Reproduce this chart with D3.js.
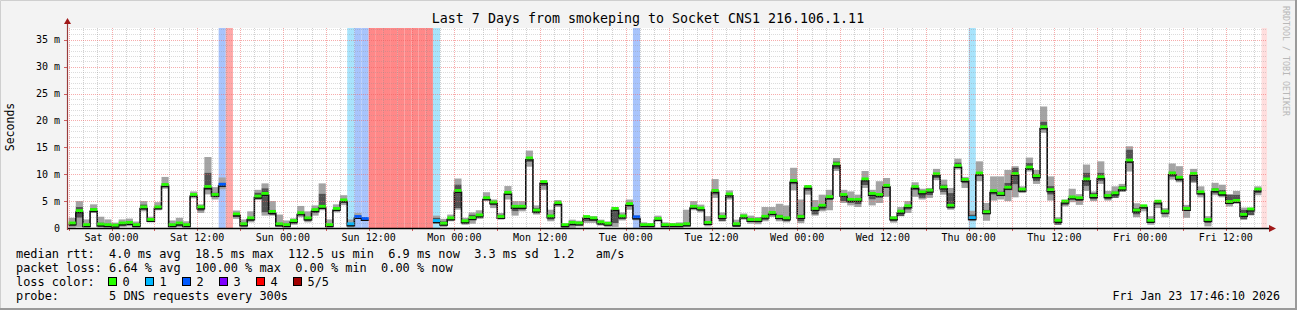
<!DOCTYPE html>
<meta charset="utf-8">
<style>
  body { margin: 0; background: #f3f3f3; }
  svg text { font-family: "DejaVu Sans Mono", monospace; white-space: pre; }
</style>
<svg width="1297" height="310"></svg>
<script src="https://cdn.jsdelivr.net/npm/d3@7"></script>
<script>
// hourly bins, first one starts Fri Jan 16 18:00, values in ms
var firstBin = new Date(2026, 0, 16, 18, 0, 0);
var graphStart = new Date(2026, 0, 16, 17, 46, 10);
var graphEnd = new Date(2026, 0, 23, 17, 46, 10);

var pMin = [0.1,0.2,0.1,2.8,0.1,0.1,0.1,0.2,0.3,0.1,3.1,1.05,3.3,7.3,0.1,0.2,0.1,5.5,2.8,6.25,5.3,7.2,null,1.7,0.1,1.05,5.2,2.3,2.3,0.2,0.1,0.6,2.0,1.05,2.3,3.3,0.1,2.9,4.25,0.1,1.7,1.3,
  null,null,null,null,null,null,null,null,null,0.75,0.2,1.25,3.4,0.6,0.8,1.7,5.0,3.7,1.55,5.3,2.3,3.1,11.4,2.5,7.1,1.25,3.9,0.05,0.05,0.3,0.95,0.95,0.45,0.2,0.2,1.4,3.4,1.4,
  0.1,0.1,1.2,0.1,0.1,0.1,0.2,3.3,2.9,0.3,5.6,1.25,5.3,0.2,1.55,0.8,0.7,1.25,2.05,1.25,1.05,7.0,0.9,6.2,2.3,3.1,3.3,10.6,4.65,4.2,3.9,7.45,4.2,4.65,5.8,1.0,2.2,2.8,5.8,5.3,5.6,8.9,6.2,3.4,10.9,7.45,
  1.25,8.7,1.35,5.1,5.3,5.0,5.7,6.5,10.5,8.2,17.7,5.1,0.6,4.0,4.8,4.3,6.9,5.0,8.2,5.1,5.6,6.7,10.5,2.0,3.1,0.6,3.7,2.0,9.0,8.5,1.9,8.4,5.7,0.3,6.1,5.7,4.0,4.5,1.55,2.35,6.1];
var pQ1 = [0.3,1.9,0.2,3.0,0.3,0.2,0.15,0.4,0.5,0.2,3.4,1.15,3.5,7.6,0.2,0.3,0.2,5.8,3.2,7.0,5.7,7.6,null,2.0,0.3,1.3,5.4,2.9,2.4,0.3,0.2,0.8,2.3,1.3,2.8,3.5,0.2,3.1,4.6,0.3,1.75,1.4,
  null,null,null,null,null,null,null,null,null,0.9,0.4,1.4,3.7,0.8,1.55,1.9,5.2,4.2,1.7,6.1,3.1,3.4,12.3,2.7,7.8,1.55,4.2,0.1,0.4,0.45,1.3,1.3,0.6,0.4,0.9,1.6,4.0,1.6,
  0.2,0.2,1.3,0.2,0.2,0.2,0.35,3.5,3.2,0.5,6.2,1.25,5.6,0.2,1.7,1.25,1.0,1.5,2.3,1.55,1.3,8.1,1.25,6.9,2.5,3.4,5.2,11.0,5.0,4.65,4.4,8.0,5.3,5.6,7.4,1.25,2.2,3.4,7.0,5.6,6.1,9.3,6.7,3.6,11.2,8.3,
  1.4,9.6,2.5,6.2,6.0,7.0,8.1,6.7,10.8,8.7,18.3,6.2,0.6,4.3,5.3,5.0,7.8,5.3,8.7,5.3,5.6,6.8,12.0,2.5,3.5,0.9,4.3,2.5,9.5,8.7,3.2,8.6,6.2,0.9,6.4,5.9,4.4,4.7,1.6,2.4,6.5];
var pMed = [0.6,2.9,0.3,3.1,0.4,0.3,0.2,0.6,0.7,0.3,3.6,1.25,3.6,7.75,0.3,0.6,0.3,5.9,3.6,7.4,5.9,7.8,null,2.3,0.45,1.55,5.6,6.1,2.75,0.45,0.3,1.05,2.5,1.55,3.1,3.7,0.3,3.3,4.9,0.45,1.8,1.45,
  null,null,null,null,null,null,null,null,null,1.05,0.55,1.55,6.65,1.0,1.6,2.1,5.3,4.5,1.8,6.3,3.7,3.7,12.7,3.0,8.3,1.9,4.4,0.3,0.7,0.6,1.8,1.55,0.8,0.55,3.3,1.9,4.2,1.75,
  0.3,0.3,1.45,0.3,0.3,0.3,0.45,3.7,3.4,0.7,6.65,1.8,6.0,0.45,1.9,1.25,1.25,1.85,2.55,1.8,1.55,8.5,1.8,7.4,3.3,3.9,5.5,11.6,5.9,5.0,5.0,8.8,6.1,5.9,7.6,1.55,2.8,3.8,7.4,6.4,6.7,9.75,7.3,3.9,11.3,8.7,
  1.6,9.9,2.7,6.6,6.1,7.25,9.8,6.9,11.0,9.4,18.5,6.8,1.1,4.65,5.45,5.3,8.8,5.7,9.2,5.7,6.2,7.1,12.3,3.0,3.8,1.1,4.65,2.8,9.9,9.1,3.3,9.8,6.4,1.25,6.8,6.2,4.6,4.8,2.2,3.2,6.9];
var pQ3 = [0.9,3.9,0.5,3.7,1.0,0.7,0.4,0.9,1.0,0.5,4.4,1.6,4.0,8.3,0.6,1.0,0.6,6.3,3.8,10.3,6.6,8.4,null,2.6,1.0,2.0,6.6,7.4,3.4,0.9,0.8,1.3,3.0,2.0,3.5,6.4,0.7,3.7,5.3,0.8,2.3,1.6,
  null,null,null,null,null,null,null,null,null,1.9,1.25,1.9,8.1,1.3,2.5,2.5,5.9,4.8,2.5,6.8,4.1,4.3,13.0,3.7,8.6,2.5,4.8,0.55,0.9,0.9,2.0,1.8,1.0,0.8,3.4,2.3,4.6,2.0,
  0.6,0.6,2.0,0.6,0.6,0.6,1.0,4.3,3.8,1.2,7.1,2.3,6.2,0.9,2.2,1.9,1.6,2.3,2.9,2.5,2.0,9.0,2.5,7.8,3.9,4.3,5.9,12.4,6.2,5.3,5.3,9.1,6.2,6.2,8.1,1.9,3.4,4.0,7.8,6.4,7.1,10.2,8.1,6.5,12.2,9.1,
  2.5,10.3,3.4,7.1,6.8,8.4,11.2,7.4,12.1,10.0,19.8,7.8,1.55,5.0,5.9,5.7,10.3,6.5,10.3,6.2,6.8,7.8,14.6,3.7,4.0,1.7,4.8,3.4,10.5,9.6,4.0,9.9,6.8,1.55,7.4,7.1,6.2,6.2,3.4,3.7,7.4];
var pMax = [1.9,5.0,1.6,4.4,2.1,1.6,1.0,1.6,1.75,1.2,5.0,2.1,4.8,9.5,1.4,1.9,1.25,6.8,4.4,13.2,7.6,9.4,null,3.25,1.6,3.1,7.1,8.3,5.0,2.5,1.4,1.8,4.1,3.1,4.2,8.3,1.6,4.4,6.1,1.6,2.8,1.9,
  null,null,null,null,null,null,null,null,null,2.3,1.7,2.5,9.2,1.9,2.9,3.3,6.65,5.3,2.8,7.8,5.0,5.0,14.4,4.2,8.9,3.4,5.2,0.8,1.55,1.35,2.2,2.2,1.55,1.2,3.9,2.9,5.3,2.4,
  1.05,0.9,2.3,1.05,0.9,1.05,3.4,5.0,4.35,2.2,9.1,2.9,7.0,1.55,2.7,2.3,2.05,3.9,3.9,4.5,4.2,11.2,5.3,7.9,5.2,6.2,7.1,13.0,7.1,6.8,6.2,10.6,7.1,8.7,9.3,2.2,3.9,5.0,8.5,7.3,7.45,11.0,9.0,7.45,12.9,9.5,
  3.2,12.4,4.65,9.6,9.6,10.8,11.5,7.75,13.1,10.8,22.6,9.6,2.0,5.3,7.3,6.3,11.8,6.8,12.4,6.9,7.75,8.2,15.2,4.6,4.3,2.2,5.1,3.7,12.0,11.5,4.3,11.0,7.75,2.2,8.4,8.05,6.3,6.9,3.8,3.8,7.75];
// lost pings out of 5 per bin
var loss = [0,0,0,0,0,0,0,0,0,0,0,0,0,0,0,0,0,0,0,0,0,2,4,0,0,0,0,0,0,0,0,0,0,0,0,0,0,0,0,1,2,2,
  5,5,5,5,5,5,5,5,5,1,0,0,0,0,0,0,0,0,0,0,0,0,0,0,0,0,0,0,0,0,0,0,0,0,0,0,0,2,
  0,0,0,0,0,0,0,0,0,0,0,0,0,0,0,0,0,0,0,0,0,0,0,0,0,0,0,0,0,0,0,0,0,0,0,0,0,0,0,0,0,0,0,0,0,0,
  1,0,0,0,0,0,0,0,0,0,0,0,0,0,0,0,0,0,0,0,0,0,0,0,0,0,0,0,0,0,0,0,0,0,0,0,0,0,0,0,0];

var lossLabels = ['0', '1', '2', '3', '4', '5/5'];
var lossColors = ['#26ff00', '#00b8ff', '#0059ff', '#7e00ff', '#ff0000', '#a10000'];
var lossBg = [null, '#a8e4fc', '#a8c4fc', '#c8a8fc', '#ffa8a8', '#ff8888'];

var svg = d3.select('svg');
var pLeft = 67, pRight = 1267, pTop = 28, pBottom = 228;

var x = d3.scaleTime().domain([graphStart, graphEnd]).range([pLeft, pRight]);
var y = d3.scaleLinear().domain([0, 37.2]).range([pBottom, pTop]);

var bins = pMed.map(function (m, i) {
  return {
    t0: d3.timeHour.offset(firstBin, i),
    t1: d3.timeHour.offset(firstBin, i + 1),
    min: pMin[i], q1: pQ1[i], med: m, q3: pQ3[i], max: pMax[i], loss: loss[i]
  };
});

// frame
svg.append('rect').attr('width', 1297).attr('height', 310).attr('fill', '#f3f3f3');
svg.append('path').attr('d', 'M0.5,309.5V0.5H1296.5').attr('stroke', '#cfcfcf').attr('fill', 'none');
svg.append('path').attr('d', 'M1296,0V309H0').attr('stroke', '#9a9a9a').attr('stroke-width', 2).attr('fill', 'none');

var g = svg.append('g');
g.append('clipPath').attr('id', 'plot').append('rect')
  .attr('x', pLeft).attr('y', pTop).attr('width', pRight - pLeft).attr('height', pBottom - pTop);
var plot = g.append('g').attr('clip-path', 'url(#plot)');
plot.append('rect').attr('x', pLeft).attr('y', pTop).attr('width', pRight - pLeft).attr('height', pBottom - pTop).attr('fill', '#fff');

// loss background
plot.selectAll('.lossbg').data(bins.filter(function (d) { return d.loss > 0; }))
  .enter().append('rect')
  .attr('x', function (d) { return x(d.t0); })
  .attr('width', function (d) { return x(d.t1) - x(d.t0); })
  .attr('y', pTop).attr('height', pBottom - pTop)
  .attr('fill', function (d) { return lossBg[d.loss]; });
// unknown tail
var lastEnd = bins[bins.length - 1].t1;
plot.append('rect').attr('x', x(lastEnd)).attr('width', x(graphEnd) - x(lastEnd))
  .attr('y', pTop).attr('height', pBottom - pTop).attr('fill', '#ffdede');

// smoke
var ok = bins.filter(function (d) { return d.med != null; });
function band(lo, hi, color) {
  plot.append('g').selectAll('rect').data(ok).enter().append('rect')
    .attr('x', function (d) { return x(d.t0); })
    .attr('width', function (d) { return x(d.t1) - x(d.t0); })
    .attr('y', function (d) { return y(d[hi]); })
    .attr('height', function (d) { return Math.max(0, y(d[lo]) - y(d[hi])); })
    .attr('fill', color);
}
band('min', 'q1', '#a4a4a4');
band('q3', 'max', '#a4a4a4');
band('q1', 'q3', '#525252');

// grid: minor every 2 h / 1 ms, major every 6 h / 5 ms
var grid = g.append('g').attr('shape-rendering', 'crispEdges').attr('stroke-dasharray', '1,1');
d3.timeHour.every(2).range(graphStart, graphEnd).forEach(function (t) {
  var major = t.getHours() % 6 === 0;
  var xx = Math.round(x(t)) + 0.5;
  grid.append('line').attr('x1', xx).attr('x2', xx).attr('y1', pTop).attr('y2', pBottom)
    .attr('stroke', major ? 'rgba(240,90,90,0.5)' : 'rgba(140,140,140,0.4)');
  if (major) {
    g.append('line').attr('x1', xx).attr('x2', xx).attr('y1', pBottom).attr('y2', pBottom + 3)
      .attr('stroke', '#d06060').attr('shape-rendering', 'crispEdges');
  }
});
d3.range(1, 38).forEach(function (v) {
  var major = v % 5 === 0;
  var yy = Math.round(y(v)) + 0.5;
  grid.append('line').attr('x1', pLeft).attr('x2', pRight).attr('y1', yy).attr('y2', yy)
    .attr('stroke', major ? 'rgba(240,90,90,0.5)' : 'rgba(140,140,140,0.3)');
  if (major) {
    g.append('line').attr('x1', pLeft - 3).attr('x2', pLeft).attr('y1', yy).attr('y2', yy)
      .attr('stroke', '#d06060').attr('shape-rendering', 'crispEdges');
  }
});

// median line
var pts = [];
bins.forEach(function (d) {
  pts.push({ t: d.t0, v: d.med });
  pts.push({ t: d.t1, v: d.med });
});
var line = d3.line()
  .defined(function (d) { return d.v != null; })
  .x(function (d) { return x(d.t); })
  .y(function (d) { return y(d.v); });
plot.append('path').datum(pts).attr('d', line)
  .attr('fill', 'none').attr('stroke', '#111').attr('stroke-width', 1.6);
plot.append('g').selectAll('rect').data(ok).enter().append('rect')
  .attr('x', function (d) { return x(d.t0); })
  .attr('width', function (d) { return x(d.t1) - x(d.t0); })
  .attr('y', function (d) { return y(d.med) - 3.2; })
  .attr('height', 2.8)
  .attr('fill', function (d) { return lossColors[d.loss]; });

// axes
g.append('line').attr('x1', pLeft).attr('x2', pRight + 6).attr('y1', pBottom + 0.5).attr('y2', pBottom + 0.5)
  .attr('stroke', '#000').attr('stroke-width', 1.4);
g.append('path').attr('d', 'M' + (pRight + 2) + ',' + (pBottom - 3) + 'l7,3.5l-7,3.5z').attr('fill', '#a01818');
g.append('line').attr('x1', pLeft + 0.5).attr('x2', pLeft + 0.5).attr('y1', pBottom + 2).attr('y2', pTop - 5)
  .attr('stroke', '#9a3a3a').attr('stroke-width', 1.2);
g.append('path').attr('d', 'M' + (pLeft - 3) + ',' + (pTop - 4) + 'l3.5,-6l3.5,6z').attr('fill', '#a01818');

// tick labels
var xTicks = d3.timeHour.every(12).range(graphStart, graphEnd);
g.selectAll('.xl').data(xTicks).enter().append('text')
  .attr('x', function (d) { return x(d); }).attr('y', 241)
  .attr('text-anchor', 'middle').attr('font-size', 10)
  .text(d3.timeFormat('%a %H:%M'));
var yTicks = d3.range(0, 36, 5);
g.selectAll('.yl').data(yTicks).enter().append('text')
  .attr('x', 60).attr('y', function (d) { return y(d) + 3.5; })
  .attr('text-anchor', 'end').attr('font-size', 10)
  .text(function (d) { return d === 0 ? '0' : d + ' m'; });

svg.append('text').attr('transform', 'translate(14,127) rotate(-90)')
  .attr('text-anchor', 'middle').attr('font-size', 11.5).text('Seconds');
svg.append('text').attr('x', 648).attr('y', 23).attr('text-anchor', 'middle')
  .attr('font-size', 13.3).text('Last 7 Days from smokeping to Socket CNS1 216.106.1.11');
svg.append('text').attr('transform', 'translate(1283,6) rotate(90)')
  .attr('font-size', 8.3).attr('fill', '#b8b8b8').text('RRDTOOL / TOBI OETIKER');

// legend
var lines = [
  'median rtt:  4.0 ms avg  18.5 ms max  112.5 us min  6.9 ms now  3.3 ms sd  1.2   am/s',
  'packet loss: 6.64 % avg  100.00 % max  0.00 % min  0.00 % now',
  'loss color:',
  'probe:       5 DNS requests every 300s'
];
svg.selectAll('.lg').data(lines).enter().append('text')
  .attr('x', 16).attr('y', function (d, i) { return 258 + i * 14; })
  .attr('font-size', 11.9).text(function (d) { return d; });
var sw = svg.selectAll('.sw').data(lossLabels).enter().append('g')
  .attr('transform', function (d, i) { return 'translate(' + (108.5 + i * 37) + ',277.5)'; });
sw.append('rect').attr('width', 8).attr('height', 8)
  .attr('fill', function (d, i) { return lossColors[i]; }).attr('stroke', '#000');
sw.append('text').attr('x', 14).attr('y', 8.5).attr('font-size', 11.9).text(function (d) { return d; });
svg.append('text').attr('x', 1280).attr('y', 300).attr('text-anchor', 'end')
  .attr('font-size', 11.6).text(d3.timeFormat('%a %b %d %H:%M:%S %Y')(graphEnd));
</script>
